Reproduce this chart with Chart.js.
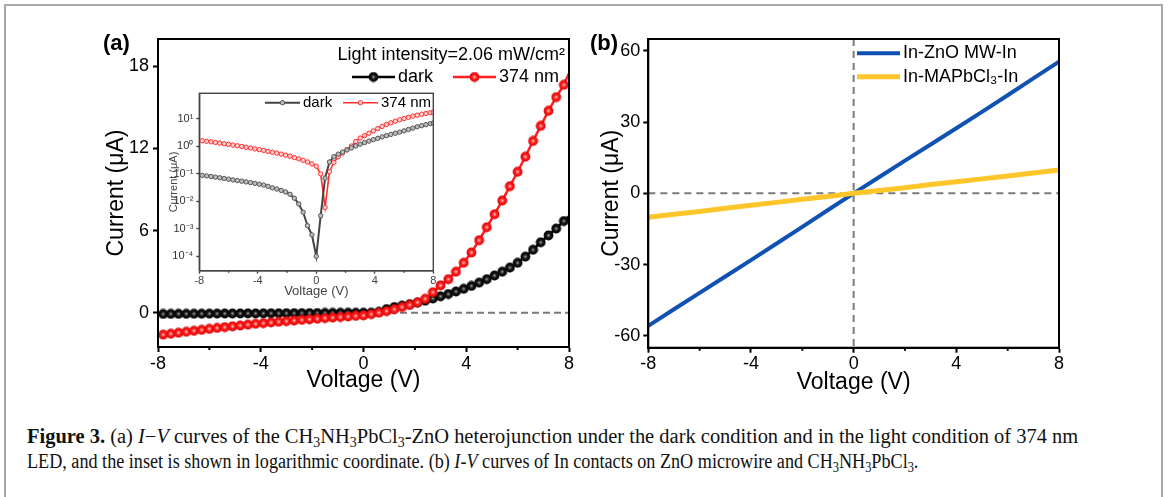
<!DOCTYPE html>
<html>
<head>
<meta charset="utf-8">
<script src="https://cdn.jsdelivr.net/npm/chart.js@4.4.1/dist/chart.umd.min.js"></script>
<style>
  html, body { margin: 0; padding: 0; background: #fff; }
  body { width: 1168px; height: 497px; position: relative; overflow: hidden; font-family: "Liberation Sans", Arial, sans-serif; }
  .frame { position: absolute; left: 4px; top: 4px; width: 1155px; height: 560px; border: 2px solid #a8a8a8; }
  canvas { position: absolute; }
  #chartA { left: 0; top: 0; }
  #inset { left: 150px; top: 80px; }
  #chartB { left: 580px; top: 0; }
  .tag { position: absolute; top: 32px; font-weight: bold; font-size: 22px; line-height: 22px; color: #000; }
  .cap { position: absolute; left: 27px; width: max-content; white-space: nowrap; transform-origin: 0 50%;
         font-family: "Liberation Serif", "DejaVu Serif", serif; font-size: 20px; line-height: 24px; color: #111; }
  .cap sub { font-size: 0.68em; line-height: 0; vertical-align: -0.3em; }
  #cap1 { top: 424px; }
  #cap2 { top: 449px; }
</style>
</head>
<body>
<div class="frame"></div>
<canvas id="chartA" width="580" height="420"></canvas>
<canvas id="inset" width="300" height="230"></canvas>
<canvas id="chartB" width="588" height="420"></canvas>
<div class="tag" style="left:103px">(a)</div>
<div class="tag" style="left:590px">(b)</div>
<div class="cap" id="cap1"><b>Figure 3.</b> (a) <i>I</i>−<i>V</i> curves of the CH<sub>3</sub>NH<sub>3</sub>PbCl<sub>3</sub>-ZnO heterojunction under the dark condition and in the light condition of 374 nm</div>
<div class="cap" id="cap2">LED, and the inset is shown in logarithmic coordinate. (b) <i>I-V</i> curves of In contacts on ZnO microwire and CH<sub>3</sub>NH<sub>3</sub>PbCl<sub>3</sub>.</div>

<script>
// panel (a): I-V of the heterojunction, dark and 374 nm
const voltage = [-7.8, -7.5, -7.2, -6.9, -6.6, -6.3, -6.0, -5.7, -5.4, -5.1, -4.8, -4.5, -4.2, -3.9, -3.6, -3.3, -3.0, -2.7,
  -2.4, -2.1, -1.8, -1.5, -1.2, -0.9, -0.6, -0.3, 0, 0.3, 0.6, 0.9, 1.2, 1.5, 1.8, 2.1, 2.4, 2.7, 3.0, 3.3, 3.6, 3.9,
  4.2, 4.5, 4.8, 5.1, 5.4, 5.7, 6.0, 6.3, 6.6, 6.9, 7.2, 7.5, 7.8, 8.0]

const darkCurrent = [-0.088, -0.084, -0.080, -0.076, -0.072, -0.068, -0.064, -0.060, -0.057, -0.054, -0.051, -0.048,
  -0.045, -0.042, -0.039, -0.035, -0.031, -0.028, -0.025, -0.022, -0.018, -0.013, -0.008, -0.004, -0.0013, -0.0006,
  -0.0001, 0.003, 0.07, 0.27, 0.42, 0.52, 0.62, 0.74, 0.88, 1.04, 1.2, 1.37, 1.55, 1.75, 1.96, 2.2, 2.45, 2.72, 3.0,
  3.3, 3.65, 4.1, 4.6, 5.15, 5.65, 6.15, 6.7, 7.05]

const uvCurrent = [-1.60, -1.53, -1.46, -1.39, -1.32, -1.25, -1.18, -1.11, -1.05, -0.99, -0.93, -0.87, -0.81, -0.76,
  -0.71, -0.66, -0.61, -0.57, -0.52, -0.48, -0.44, -0.39, -0.35, -0.31, -0.27, -0.23, -0.19, -0.10, 0.006, 0.12, 0.26,
  0.42, 0.57, 0.76, 1.02, 1.5, 2.0, 2.45, 3.0, 3.65, 4.4, 5.3, 6.25, 7.2, 8.2, 9.25, 10.3, 11.4, 12.55, 13.65, 14.75,
  15.75, 16.65, 17.5]

// panel (b): In contacts
const voltageB = [-8, -7, -6, -5, -4, -3, -2, -1, 0, 1, 2, 3, 4, 5, 6, 7, 8]
const znoCurrent = [-55.8, -48.8, -41.9, -35.0, -28.1, -21.1, -14.1, -7.0, 0, 6.9, 13.8, 20.6, 27.4, 34.3, 41.3, 48.4, 55.5]
const mapbCurrent = [-10.1, -8.8, -7.6, -6.3, -5.0, -3.8, -2.5, -1.3, 0, 1.2, 2.4, 3.7, 4.9, 6.1, 7.3, 8.6, 9.8]

const xTicks = [-8, -4, 0, 4, 8]
const xMinorTicks = [-6, -2, 2, 6]
const yTicksA = [0, 6, 12, 18]
const yTicksInset = [1e-4, 1e-3, 1e-2, 1e-1, 1, 10]
const yTicksB = [-60, -30, 0, 30, 60]

Chart.defaults.font.family = '"Liberation Sans", Arial, sans-serif'
Chart.defaults.color = '#000'

const pts = (xs, ys, f) => xs.map((x, i) => ({ x, y: f ? f(ys[i]) : ys[i] }))
const fixTicks = (list) => (s) => { s.ticks = list.map(v => ({ value: v })) }

function makeBall (glow, base, edge) {
  const c = document.createElement('canvas')
  c.width = c.height = 11
  const g = c.getContext('2d')
  const grad = g.createRadialGradient(5.5, 5.5, 0.2, 5.5, 5.5, 5.2)
  grad.addColorStop(0, glow)
  grad.addColorStop(0.4, base)
  grad.addColorStop(1, edge)
  g.fillStyle = grad
  g.beginPath()
  g.arc(5.5, 5.5, 4.9, 0, Math.PI * 2)
  g.fill()
  return c
}

const blackBall = makeBall('#9a9a9a', '#151515', '#000')
const redBall = makeBall('#ffc4c4', '#ff2020', '#d80000')

const supers = { '-': '⁻', 0: '⁰', 1: '¹', 2: '²', 3: '³', 4: '⁴', 5: '⁵' }
const powerLabel = (v) => '10' + String(Math.round(Math.log10(v))).split('').map(ch => supers[ch]).join('')

// box round the plot area + short minor ticks on the x axis
const frame = {
  id: 'frame',
  afterDraw (chart, args, o) {
    const { ctx, chartArea: a } = chart
    const x = chart.scales.x
    ctx.save()
    ctx.strokeStyle = o.color
    ctx.lineWidth = o.width
    ctx.strokeRect(a.left, a.top, a.right - a.left, a.bottom - a.top)
    ctx.beginPath()
    xMinorTicks.forEach(v => {
      const px = x.getPixelForValue(v)
      ctx.moveTo(px, a.bottom)
      ctx.lineTo(px, a.bottom + o.minor)
    })
    ctx.stroke()
    ctx.restore()
  }
}

// dashed zero lines
const zeroLines = {
  id: 'zeroLines',
  beforeDatasetsDraw (chart, args, o) {
    const { ctx, chartArea: a, scales } = chart
    ctx.save()
    ctx.strokeStyle = '#7a7a7a'
    ctx.lineWidth = 2
    ctx.setLineDash(o.dash)
    ctx.beginPath()
    if (o.h) {
      const py = scales.y.getPixelForValue(0)
      ctx.moveTo(a.left, py)
      ctx.lineTo(a.right, py)
    }
    if (o.v) {
      const px = scales.x.getPixelForValue(0)
      ctx.moveTo(px, a.top)
      ctx.lineTo(px, a.bottom)
    }
    ctx.stroke()
    ctx.restore()
  }
}

// legend drawn inside the plot area
const keyLegend = {
  id: 'keyLegend',
  afterDraw (chart, args, o) {
    const ctx = chart.ctx
    ctx.save()
    ctx.font = o.size + 'px "Liberation Sans", Arial, sans-serif'
    ctx.textBaseline = 'middle'
    ctx.fillStyle = '#000'
    if (o.title) {
      ctx.textAlign = 'right'
      ctx.fillText(o.title, o.titleX, o.titleY)
    }
    ctx.textAlign = 'left'
    o.items.forEach(it => {
      const ds = chart.data.datasets[it.index]
      ctx.strokeStyle = ds.borderColor
      ctx.lineWidth = ds.borderWidth
      ctx.beginPath()
      ctx.moveTo(it.x, it.y)
      ctx.lineTo(it.x + o.len, it.y)
      ctx.stroke()
      if (o.marker) {
        ctx.fillStyle = ds.pointBackgroundColor || '#000'
        ctx.strokeStyle = ds.pointBorderColor || ds.borderColor
        ctx.lineWidth = ds.pointBorderWidth || 0
        Chart.helpers.drawPoint(ctx, { pointStyle: ds.pointStyle, radius: o.marker, borderWidth: ds.pointBorderWidth || 0 },
          it.x + o.len / 2, it.y)
      }
      ctx.fillStyle = '#000'
      ctx.fillText(ds.label, it.x + o.len + o.gap, it.y)
    })
    ctx.restore()
  }
}

const base = {
  responsive: false,
  animation: false,
  devicePixelRatio: 1,
  events: []
}

function axis (opts) {
  return {
    type: 'linear',
    min: opts.min,
    max: opts.max,
    afterBuildTicks: fixTicks(opts.ticks),
    afterFit: opts.fit,
    grid: { drawOnChartArea: false, tickLength: opts.tick, tickWidth: opts.lw, tickColor: opts.color },
    border: { color: opts.color, width: opts.lw },
    ticks: { font: { size: opts.font }, color: opts.color, padding: opts.pad, maxRotation: 0, autoSkip: false },
    title: { display: true, text: opts.title, font: { size: opts.tfont }, color: opts.color, padding: opts.tpad }
  }
}

const markerRadius = (c) => (c.raw && c.raw.x === 8 ? 0 : 4.7)

new Chart(document.getElementById('chartA'), {
  type: 'line',
  data: {
    datasets: [
      { label: 'dark', data: pts(voltage, darkCurrent), borderColor: '#000', borderWidth: 2.5, pointStyle: blackBall, pointRadius: markerRadius, order: 1 },
      { label: '374 nm', data: pts(voltage, uvCurrent), borderColor: '#ff1f1f', borderWidth: 2.5, pointStyle: redBall, pointRadius: markerRadius, order: 0 }
    ]
  },
  options: {
    ...base,
    layout: { padding: { left: 99, top: 39, right: 11, bottom: 21.2 } },
    scales: {
      x: axis({ min: -8, max: 8, ticks: xTicks, fit: s => { s.height = 51.8 }, tick: 5, lw: 2, color: '#000', font: 18, pad: 1, title: 'Voltage (V)', tfont: 23, tpad: 4 }),
      y: axis({ min: -2.5, max: 20, ticks: yTicksA, fit: s => { s.width = 59 }, tick: 5, lw: 2, color: '#000', font: 18, pad: 4, title: 'Current (μA)', tfont: 23, tpad: 4 })
    },
    plugins: {
      legend: { display: false },
      tooltip: { enabled: false },
      frame: { color: '#000', width: 2, minor: 3 },
      zeroLines: { h: true, dash: [7, 4] },
      keyLegend: {
        size: 18, len: 43, gap: 3, marker: 4.7,
        title: 'Light intensity=2.06 mW/cm²', titleX: 565, titleY: 55,
        items: [{ index: 0, x: 352, y: 77 }, { index: 1, x: 453, y: 77 }]
      }
    }
  },
  plugins: [frame, zeroLines, keyLegend]
})

// inset: same data, |I| on a log axis
new Chart(document.getElementById('inset'), {
  type: 'line',
  data: {
    datasets: [
      { label: 'dark', data: pts(voltage, darkCurrent, Math.abs), borderColor: '#444', borderWidth: 2, pointRadius: 2.2, pointBorderWidth: 1, pointBorderColor: '#555', pointBackgroundColor: '#bdbdbd', order: 0 },
      { label: '374 nm', data: pts(voltage, uvCurrent, Math.abs), borderColor: '#ff3030', borderWidth: 1.6, pointRadius: 2.2, pointBorderWidth: 1, pointBorderColor: '#ff3030', pointBackgroundColor: '#ffd0d0', order: 1 }
    ]
  },
  options: {
    ...base,
    layout: { padding: { left: 16.4, top: 13.3, right: 16.7, bottom: 9.5 } },
    scales: {
      x: axis({ min: -8, max: 8, ticks: xTicks, fit: s => { s.height = 29.8 }, tick: 3, lw: 1.4, color: '#444', font: 11, pad: 1, title: 'Voltage (V)', tfont: 13, tpad: { top: 1, bottom: 1 } }),
      y: {
        ...axis({ min: 3e-5, max: 85, ticks: yTicksInset, fit: s => { s.width = 32.9 }, tick: 3, lw: 1.4, color: '#444', font: 11, pad: 3, title: 'Current (μA)', tfont: 11, tpad: { top: 1, bottom: 1 } }),
        type: 'logarithmic',
        ticks: { font: { size: 11 }, color: '#333', padding: 3, autoSkip: false, callback: (v) => powerLabel(v) }
      }
    },
    plugins: {
      legend: { display: false },
      tooltip: { enabled: false },
      frame: { color: '#444', width: 1.4, minor: 2 },
      keyLegend: {
        size: 15, len: 35, gap: 3, marker: 2.2,
        items: [{ index: 0, x: 115, y: 22.7 }, { index: 1, x: 193, y: 22.7 }]
      }
    }
  },
  plugins: [frame, keyLegend]
})

new Chart(document.getElementById('chartB'), {
  type: 'line',
  data: {
    datasets: [
      { label: 'In-ZnO MW-In', data: pts(voltageB, znoCurrent), borderColor: '#1052b4', borderWidth: 4, pointRadius: 0, order: 1 },
      { label: 'In-MAPbCl₃-In', data: pts(voltageB, mapbCurrent), borderColor: '#fec62a', borderWidth: 5, pointRadius: 0, order: 0 }
    ]
  },
  options: {
    ...base,
    layout: { padding: { left: 14.2, top: 39, right: 109, bottom: 19.2 } },
    scales: {
      x: axis({ min: -8, max: 8, ticks: xTicks, fit: s => { s.height = 53.1 }, tick: 5, lw: 2, color: '#000', font: 18, pad: 1, title: 'Voltage (V)', tfont: 23, tpad: 4 }),
      y: axis({ min: -65, max: 65, ticks: yTicksB, fit: s => { s.width = 54.1 }, tick: 5, lw: 2, color: '#000', font: 18, pad: 3, title: 'Current (μA)', tfont: 23, tpad: 4 })
    },
    plugins: {
      legend: { display: false },
      tooltip: { enabled: false },
      frame: { color: '#000', width: 2, minor: 3 },
      zeroLines: { h: true, v: true, dash: [7, 5] },
      keyLegend: {
        size: 18, len: 43, gap: 3,
        items: [{ index: 0, x: 277, y: 53.3 }, { index: 1, x: 277, y: 76.7 }]
      }
    }
  },
  plugins: [frame, zeroLines, keyLegend]
})

// squeeze the caption lines to the width they take in the figure
;[['cap1', 1051], ['cap2', 891]].forEach(([id, w]) => {
  const el = document.getElementById(id)
  el.style.transform = 'scaleX(' + (w / el.scrollWidth) + ')'
})
</script>
</body>
</html>
